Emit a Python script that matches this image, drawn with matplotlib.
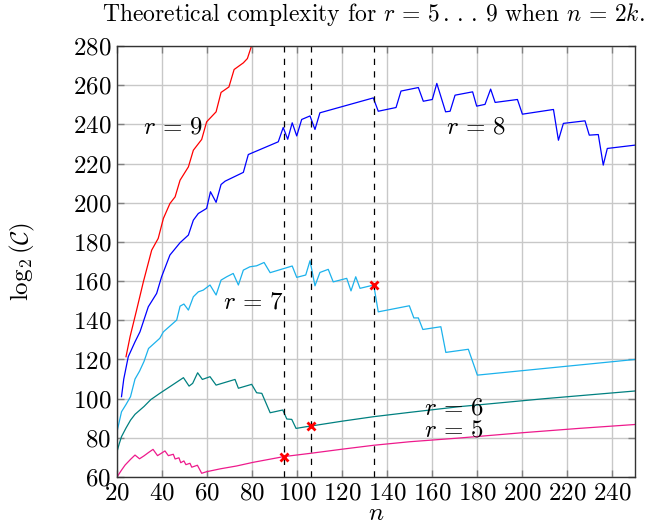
import numpy as np
import matplotlib
matplotlib.use("Agg")
import matplotlib.pyplot as plt

plt.rcParams['font.family'] = 'cmr10'
plt.rcParams['mathtext.fontset'] = 'cm'
plt.rcParams['axes.unicode_minus'] = False
plt.rcParams['axes.formatter.use_mathtext'] = True

# values (n, log2 C)
r5_n = [20, 22, 23.6, 26, 28, 30, 32, 34, 36, 38, 41.3, 42.8, 45, 45.8, 47.5, 48.3, 49.7,
        50.6, 52.4, 53.2, 55.7, 57.6, 59.8, 66, 73, 80.5, 94, 106, 120, 134, 150, 172,
        200, 225, 250]
r5_y = [60, 63.5, 66.1, 69, 71.2, 69.3, 70.8, 72.5, 74.1, 70.9, 73.3, 70.9, 71.6, 69.2, 69.8,
        67.3, 68.2, 66.3, 67, 65, 66, 61.9, 62.7, 64.2, 65.6, 67.5, 70.4, 72.1, 74.2, 76.2,
        78, 79.9, 82.6, 84.8, 86.8]

r6_n = [20, 21, 22, 24, 26, 28, 32, 35, 39, 44, 49.5, 52, 53.6, 55.8, 57.9, 61.3, 64, 72.4,
        73.9, 79.8, 82, 84.3, 88, 93.6, 95.4, 97.6, 99.5, 104.2, 106, 120, 134, 150, 172,
        210, 250]
r6_y = [72.9, 77, 80.6, 85, 89, 92, 96, 99.5, 102.7, 106.5, 110.7, 106.4, 107.8, 113.2,
        109.8, 111.2, 106.9, 109.8, 105.3, 107.3, 103, 102.7, 92.8, 94.2, 89.6, 89.4, 84.8,
        85.7, 86, 88.5, 90.8, 93, 95.9, 100, 103.9]

r7_n = [20, 22, 24, 26, 28, 30, 32, 34, 39, 40.6, 46.5, 48, 49.7, 51.7, 53.9, 56.1, 58.3,
        61.3, 64, 66.2, 68.7, 71.6, 73.9, 76.1, 79, 82, 85.3, 88, 97.8, 99.8, 103.8, 105.7,
        107.9, 110.1, 113.8, 116, 122, 123.9, 126, 127.9, 134, 136, 149.8, 151.8, 153.8,
        155.8, 163.8, 166, 176, 180, 250]
r7_y = [83.1, 93.3, 97, 101, 110, 114, 119, 125.6, 130.8, 134.1, 140.1, 147.2, 148.3, 145.2,
        152, 154.5, 155.4, 158, 152.9, 160.5, 162.2, 163.9, 158, 165.6, 167.3, 167.8, 169.5,
        164.3, 167.7, 161.9, 163.1, 170.4, 157.6, 164.4, 166, 159.6, 161.4, 155, 162.2, 156.3,
        158, 144.3, 147.4, 141.2, 141.2, 135.3, 136.7, 123.6, 125.2, 112, 120]

r8_n = [22, 23, 25, 28, 30.2, 33.9, 37.6, 39.8, 43.5, 48, 51.7, 53.9, 56.1, 59.8, 61.5, 64,
        66.2, 68, 76.1, 78.3, 91.6, 93.8, 95.8, 97.8, 99.8, 102, 105.7, 107.9, 110.1, 133.8,
        136, 143.9, 146.1, 153.8, 156, 160, 162, 165.9, 167.9, 170.1, 177.9, 179.7, 183.4,
        185.9, 187.9, 197.8, 200, 213.8, 216, 218.2, 227.8, 229.7, 233.7, 235.9, 237.7, 250]
r8_y = [101, 110, 121.4, 129, 134.1, 146.9, 153.7, 162.2, 173.3, 179.6, 183.5, 191.1, 194.5,
        197.1, 205.6, 200.2, 209.3, 211, 215.5, 224.6, 231.1, 238.4, 232.4, 240.8, 234.1,
        242.5, 244.3, 237.4, 245.9, 253.5, 246.7, 248.6, 257, 258.8, 251.8, 252.7, 260.9,
        246.4, 246.7, 254.9, 256.6, 249.3, 250.2, 258, 251.2, 252.7, 245.2, 247.6, 231.9,
        240.5, 241.8, 234.5, 234.8, 219.2, 227.7, 229.4]

r9_n = [24, 25.8, 28.7, 31.7, 35.4, 38.3, 40.6, 43.5, 45.8, 48, 51.7, 53.9, 57.6, 59.8, 64,
        66.2, 69.7, 72, 76.1, 77.9, 80, 82]
r9_y = [121.4, 131.6, 145.2, 159.6, 175.8, 181.8, 192, 199.6, 203, 211.5, 218.3, 226.8,
        232.3, 241.3, 246.4, 256.3, 259.1, 268, 271.4, 273.6, 281, 285]

cut_n = [94, 106, 134]
cut_y = [70.4, 86, 158]

fig = plt.figure(figsize=(6.48, 5.29), dpi=100)
ax = fig.add_axes([117 / 648, 52 / 529, 518 / 648, 431 / 529])

ax.plot(r9_n, r9_y, color='#ff0000', lw=0.9)
ax.plot(r8_n, r8_y, color='#0000ff', lw=0.9)
ax.plot(r7_n, r7_y, color='#1cb2ec', lw=0.9)
ax.plot(r6_n, r6_y, color='#008080', lw=0.9)
ax.plot(r5_n, r5_y, color='#ee1a8c', lw=0.9)

for c in cut_n:
    ax.axvline(c, color='black', ls=(0, (5, 5)), lw=0.9)
ax.plot(cut_n, cut_y, 'x', color='#ff0000', ms=6, mew=2.0)

fs = 18
ax.text(44.8, 238.5, r'$r\,=\,9$', fontsize=fs, ha='center', va='center')
ax.text(179.5, 238.5, r'$r\,=\,8$', fontsize=fs, ha='center', va='center')
ax.text(80.4, 149.3, r'$r\,=\,7$', fontsize=fs, ha='center', va='center')
ax.text(169.6, 95, r'$r\,=\,6$', fontsize=fs, ha='center', va='center')
ax.text(169.6, 84, r'$r\,=\,5$', fontsize=fs, ha='center', va='center')

ax.set_xlim(20, 250)
ax.set_ylim(60, 280)
ax.set_xticks(np.arange(20, 251, 20))
ax.set_yticks(np.arange(60, 281, 20))
ax.grid(True, color='#c8c8c8', lw=1.0)
ax.set_axisbelow(True)
ax.tick_params(direction='in', top=True, right=True, color='#808080', length=5,
               width=1.0, labelsize=fs, pad=4)
for s in ax.spines.values():
    s.set_color('#333333')
    s.set_linewidth(1.0)

ax.set_xlabel('$n$', fontsize=fs, labelpad=-1)
ax.set_ylabel(r'$\log_2(\mathcal{C})$', fontsize=fs)
ax.yaxis.set_label_coords(-0.155, 0.5)

fig.text(645 / 648, 1 - 14 / 529,
         r'Theoretical complexity for $r\,=\,5\,.\,.\,.\,9$ when $n\,=\,2k$.',
         fontsize=17, ha='right', va='center')

fig.savefig('out.png', dpi=100)
